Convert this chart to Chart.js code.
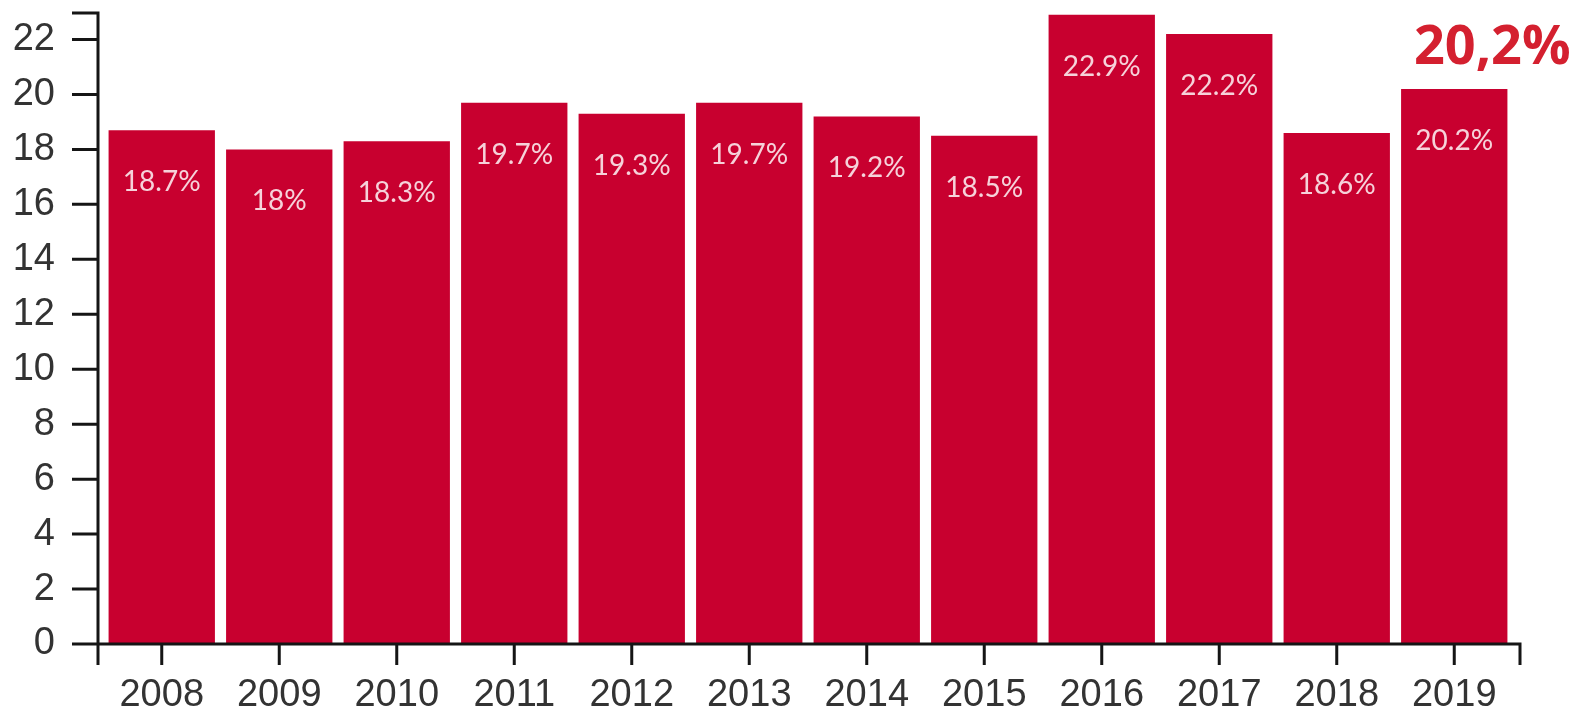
<!DOCTYPE html>
<html>
<head>
<meta charset="utf-8">
<script src="https://cdn.jsdelivr.net/npm/chart.js@4"></script>
<style>
  body { margin: 0; background: #fff; }
</style>
</head>
<body>
<canvas id="chart" width="1585" height="714"></canvas>
<script>
const years = ["2008", "2009", "2010", "2011", "2012", "2013", "2014", "2015", "2016", "2017", "2018", "2019"];
const shares = [18.7, 18, 18.3, 19.7, 19.3, 19.7, 19.2, 18.5, 22.9, 22.2, 18.6, 20.2];
const yTicks = [0, 2, 4, 6, 8, 10, 12, 14, 16, 18, 20, 22];

const barColor = "#c8002f";
const axisColor = "#151515";

// d3-like axes: domain line a bit outside the bars, with outer ticks
const axesPlugin = {
  id: "axes",
  afterDatasetsDraw(chart) {
    const ctx = chart.ctx;
    const area = chart.chartArea;
    const x = chart.scales.x;
    const y = chart.scales.y;
    const x0 = area.left - 5;
    const x1 = area.right + 7;
    const y0 = y.getPixelForValue(0);
    const yTop = area.top + 1;

    ctx.save();
    ctx.strokeStyle = axisColor;
    ctx.lineWidth = 3;
    ctx.beginPath();
    // y axis
    ctx.moveTo(x0 - 26, yTop);
    ctx.lineTo(x0, yTop);
    ctx.lineTo(x0, y0);
    yTicks.forEach(v => {
      const py = y.getPixelForValue(v);
      ctx.moveTo(x0 - 26, py);
      ctx.lineTo(x0, py);
    });
    // x axis
    ctx.moveTo(x0, y0 + 21);
    ctx.lineTo(x0, y0);
    ctx.lineTo(x1, y0);
    ctx.lineTo(x1, y0 + 21);
    years.forEach((_, i) => {
      const px = x.getPixelForTick(i);
      ctx.moveTo(px, y0);
      ctx.lineTo(px, y0 + 21);
    });
    ctx.stroke();
    ctx.restore();
  }
};

const labelsPlugin = {
  id: "barLabels",
  afterDatasetsDraw(chart) {
    const ctx = chart.ctx;
    const bars = chart.getDatasetMeta(0).data;
    ctx.save();
    ctx.textAlign = "center";
    ctx.textBaseline = "middle";
    ctx.font = "28px Lato";
    ctx.fillStyle = "#f6d2da";
    bars.forEach((bar, i) => {
      ctx.fillText(shares[i] + "%", bar.x, bar.y + 52);
    });

    // highlighted last value
    const last = bars[bars.length - 1];
    const lastVal = shares[shares.length - 1];
    ctx.font = "bold 54px 'Open Sans'";
    ctx.fillStyle = "#d4202f";
    ctx.textBaseline = "alphabetic";
    ctx.fillText(String(lastVal).replace(".", ",") + "%", last.x + 38, last.y - 25);
    ctx.restore();
  }
};

new Chart(document.getElementById("chart"), {
  type: "bar",
  data: {
    labels: years,
    datasets: [{
      data: shares,
      backgroundColor: barColor,
      borderWidth: 0,
      categoryPercentage: 1,
      barPercentage: 0.905
    }]
  },
  options: {
    responsive: false,
    animation: false,
    layout: { padding: { top: 12, right: 72, left: 0, bottom: 0 } },
    plugins: {
      legend: { display: false },
      tooltip: { enabled: false }
    },
    scales: {
      x: {
        grid: { display: false, drawTicks: false },
        border: { display: false },
        ticks: {
          color: "#333",
          font: { family: "'Liberation Sans', Arial", size: 38 },
          padding: 29,
          maxRotation: 0
        },
        afterFit(scale) { scale.height = 70; }
      },
      y: {
        min: 0,
        max: 23,
        grid: { display: false, drawTicks: false },
        border: { display: false },
        ticks: {
          stepSize: 2,
          color: "#333",
          font: { family: "'Liberation Sans', Arial", size: 38 },
          padding: 48
        },
        afterBuildTicks(scale) {
          scale.ticks = yTicks.map(v => ({ value: v }));
        },
        afterFit(scale) {
          scale.width = 103;
          scale.paddingTop = 0;
          scale.paddingBottom = 0;
        }
      }
    }
  },
  plugins: [axesPlugin, labelsPlugin]
});
</script>
</body>
</html>
